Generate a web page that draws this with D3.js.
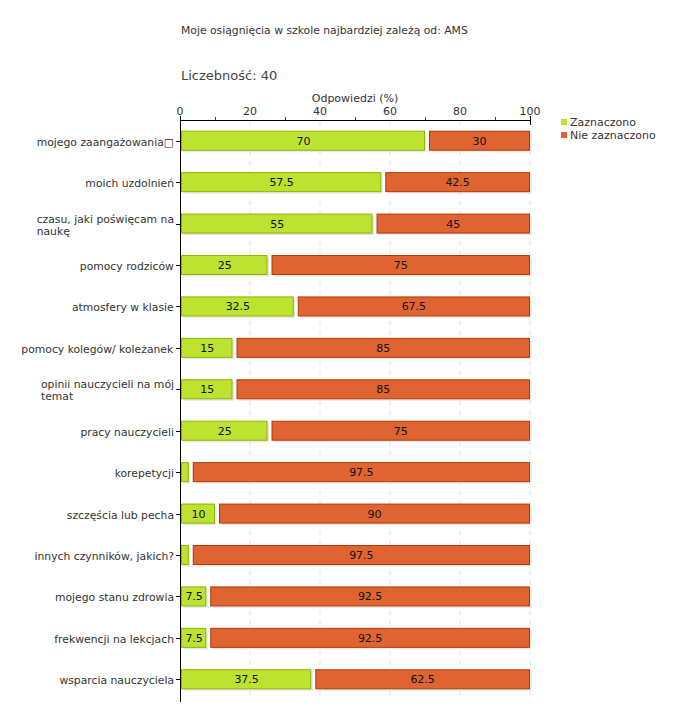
<!DOCTYPE html>
<html><head><meta charset="utf-8">
<script src="https://cdn.jsdelivr.net/npm/d3@7"></script>
<style>body{margin:0;background:#fff}svg{display:block}text{font-family:"DejaVu Sans",Verdana,sans-serif}</style>
</head><body>
<script>
const categories = [
  ["mojego zaangażowania\u25A1"],
  ["moich uzdolnień"],
  ["czasu, jaki poświęcam na", "naukę"],
  ["pomocy rodziców"],
  ["atmosfery w klasie"],
  ["pomocy kolegów/ koleżanek"],
  ["opinii nauczycieli na mój", "temat"],
  ["pracy nauczycieli"],
  ["korepetycji"],
  ["szczęścia lub pecha"],
  ["innych czynników, jakich?"],
  ["mojego stanu zdrowia"],
  ["frekwencji na lekcjach"],
  ["wsparcia nauczyciela"]
];
const zaznaczono = [70, 57.5, 55, 25, 32.5, 15, 15, 25, 2.5, 10, 2.5, 7.5, 7.5, 37.5];
const nieZaznaczono = [30, 42.5, 45, 75, 67.5, 85, 85, 75, 97.5, 90, 97.5, 92.5, 92.5, 62.5];
const seriesNames = ["Zaznaczono", "Nie zaznaczono"];
const xTicks = [0, 20, 40, 60, 80, 100];
const minorTicks = [10, 30, 50, 70, 90];
const title = "Moje osiągnięcia w szkole najbardziej zależą od: AMS";
const countLabel = "Liczebność: 40";
const axisTitle = "Odpowiedzi (%)";

const W = 680, H = 720;
const svg = d3.select("body").append("svg").attr("width", W).attr("height", H);
const x = d3.scaleLinear().domain([0, 100]).range([180, 530]);
const y = d3.scaleBand().domain(d3.range(categories.length)).range([120, 700]);
const fills = ["#bde22f", "#e06432"];
const strokes = ["#8cb400", "#b53a00"];

svg.append("text").attr("x", 181).attr("y", 34).attr("font-size", 10.8).attr("fill", "#333").text(title);
svg.append("text").attr("x", 181).attr("y", 80).attr("font-size", 13).attr("fill", "#444").text(countLabel);
svg.append("text").attr("x", 355).attr("y", 102).attr("text-anchor", "middle").attr("font-size", 11).attr("fill", "#333").text(axisTitle);

// grid
svg.append("g").selectAll("line").data(xTicks.slice(1)).join("line")
  .attr("x1", d => x(d)).attr("x2", d => x(d)).attr("y1", 121).attr("y2", 700)
  .attr("stroke", "#ddd").attr("stroke-dasharray", "4,6");

// tick labels
svg.append("g").selectAll("text").data(xTicks).join("text")
  .attr("x", d => x(d)).attr("y", 115).attr("text-anchor", "middle")
  .attr("font-size", 11).attr("fill", "#333").text(d => d);

// bars
const rows = categories.map((c, i) => ({i, vals: [zaznaczono[i], nieZaznaczono[i]]}));
const bh = 19;
rows.forEach(r => {
  const cy = y(r.i) + y.bandwidth() / 2;
  let start = 0;
  r.vals.forEach((v, s) => {
    const x0 = x(start) + (s === 0 ? 1.5 : 4.5);
    const x1 = x(start + v) - 0.5;
    const w = Math.max(0, x1 - x0);
    svg.append("rect").attr("x", x0 + 2).attr("y", cy - bh / 2 + 2).attr("width", w).attr("height", bh)
      .attr("fill", "#e8e8e8");
    svg.append("rect").attr("x", x0).attr("y", cy - bh / 2).attr("width", w).attr("height", bh)
      .attr("fill", fills[s]).attr("stroke", strokes[s]).attr("stroke-width", 1);
    if (v >= 5) {
      svg.append("text").attr("x", (x(start) + x(start + v)) / 2 + (s === 0 ? 1 : 2)).attr("y", cy + 4)
        .attr("text-anchor", "middle").attr("font-size", 11).attr("fill", "#111").text(v);
    }
    start += v;
  });
});

// axes lines
svg.append("line").attr("x1", 180).attr("x2", 531).attr("y1", 120.5).attr("y2", 120.5).attr("stroke", "#000");
svg.append("line").attr("x1", 180.5).attr("x2", 180.5).attr("y1", 116).attr("y2", 702).attr("stroke", "#000");
svg.append("line").attr("x1", x(100)+0.5).attr("x2", x(100)+0.5).attr("y1", 116).attr("y2", 125).attr("stroke", "#000");
svg.append("g").selectAll("line").data(minorTicks).join("line")
  .attr("x1", d => x(d)+0.5).attr("x2", d => x(d)+0.5).attr("y1", 117).attr("y2", 120)
  .attr("stroke", "#d00");

// y ticks and labels
categories.forEach((c, i) => {
  const cy = Math.round(y(i) + y.bandwidth() / 2) + 0.5;
  svg.append("line").attr("x1", 176).attr("x2", 180).attr("y1", cy).attr("y2", cy).attr("stroke", "#000");
  const g = svg.append("g");
  const lh = 12;
  const y0 = c.length === 1 ? cy + 4 : cy - 2;
  const t = g.append("text").attr("font-size", 10.8).attr("fill", "#333");
  c.forEach((line, k) => {
    t.append("tspan").attr("x", 0).attr("y", y0 + k * lh).text(line);
  });
  const bw = t.node().getBBox().width;
  t.attr("transform", `translate(${174 - bw},0)`);
});

// legend
seriesNames.forEach((n, s) => {
  svg.append("rect").attr("x", 561).attr("y", 119 + s * 13).attr("width", 6).attr("height", 6).attr("fill", fills[s]);
  svg.append("text").attr("x", 570).attr("y", 126 + s * 13).attr("font-size", 11).attr("fill", "#333").text(n);
});
</script>
</body></html>
